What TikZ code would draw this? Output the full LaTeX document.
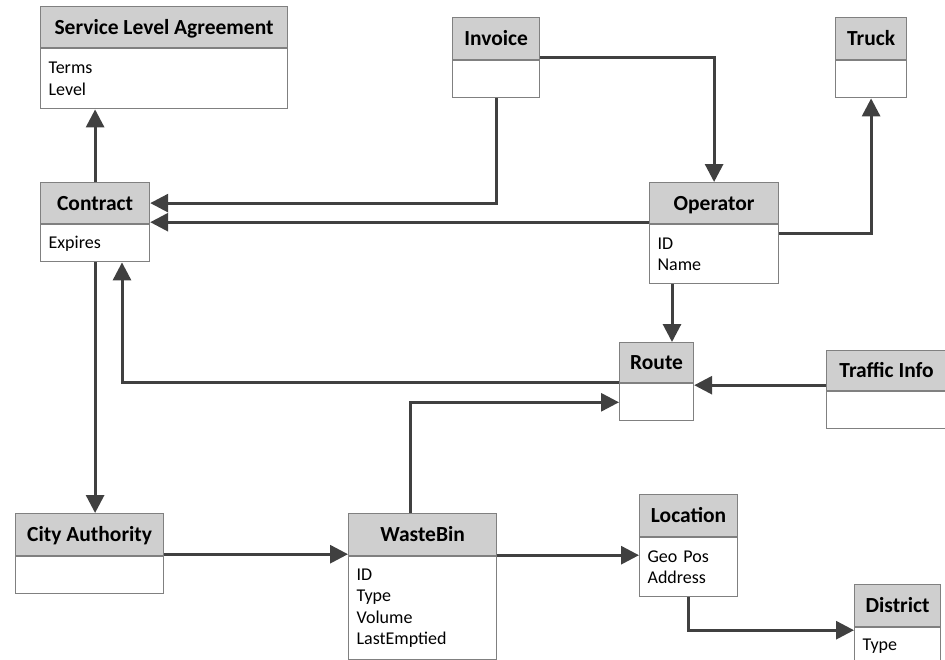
\documentclass[tikz,border=0pt]{standalone}
\usepackage{fontspec}
\setmainfont{Carlito}
\usetikzlibrary{arrows.meta,positioning}

\begin{document}
\begin{tikzpicture}[x=1pt,y=-1pt,
    clshead/.style={rectangle,draw=black!50,fill=black!19,line width=1.2pt,anchor=north west,inner sep=0pt,text height=13.8pt,text depth=0pt,font=\fontsize{21.5}{25}\selectfont\bfseries},
    clsbody/.style={rectangle,draw=black!50,fill=white,line width=1.2pt,inner xsep=8pt,inner ysep=0pt,align=left,font=\fontsize{18}{21.5}\selectfont},
    assoc/.style={-{Triangle[length=18pt,width=18pt]},line width=3pt,black!75},
]
\useasboundingbox (0,0) rectangle (945,659);

\node[clshead,minimum width=247pt,minimum height=41pt] (slaH) at (40,6) {Service Level Agreement};
\node[clsbody,text width=231pt,minimum height=60pt,below=0pt of slaH] (slaB) {Terms\\Level};
\node[clshead,minimum width=109pt,minimum height=41pt] (contractH) at (40,182) {Contract};
\node[clsbody,text width=93pt,minimum height=37pt,below=0pt of contractH] (contractB) {Expires};
\node[clshead,minimum width=87pt,minimum height=42pt] (invH) at (452,17) {Invoice};
\node[clsbody,text width=71pt,minimum height=37pt,below=0pt of invH] (invB) {};
\node[clshead,minimum width=71pt,minimum height=42pt] (truckH) at (835,17) {Truck};
\node[clsbody,text width=55pt,minimum height=37pt,below=0pt of truckH] (truckB) {};
\node[clshead,minimum width=129pt,minimum height=41pt] (opH) at (649,182) {Operator};
\node[clsbody,text width=113pt,minimum height=59pt,below=0pt of opH] (opB) {ID\\Name};
\node[clshead,minimum width=74pt,minimum height=40pt] (routeH) at (619,342) {Route};
\node[clsbody,text width=58pt,minimum height=37pt,below=0pt of routeH] (routeB) {};
\node[clshead,minimum width=120pt,minimum height=40pt] (trafH) at (826,350) {Traffic Info};
\node[clsbody,text width=104pt,minimum height=37pt,below=0pt of trafH] (trafB) {};
\node[clshead,minimum width=148pt,minimum height=42pt] (cityH) at (15,513) {City Authority};
\node[clsbody,text width=132pt,minimum height=37pt,below=0pt of cityH] (cityB) {};
\node[clshead,minimum width=148pt,minimum height=42pt] (wasteH) at (348,513) {WasteBin};
\node[clsbody,text width=132pt,minimum height=103pt,below=0pt of wasteH] (wasteB) {ID\\Type\\Volume\\LastEmptied};
\node[clshead,minimum width=98pt,minimum height=42pt] (locH) at (639,494) {Location};
\node[clsbody,text width=82pt,minimum height=59pt,below=0pt of locH] (locB) {Geo Pos\\Address};
\node[clshead,minimum width=86pt,minimum height=42pt] (distH) at (854,584) {District};
\node[clsbody,text width=70pt,minimum height=37pt,below=0pt of distH] (distB) {Type};

% connectors
\coordinate (opOut) at ([xshift=23pt]opB.south west);
\coordinate (ctIn) at ([xshift=82pt]contractB.south west);
\coordinate (tfOut) at ([yshift=6pt]trafH.south west);
\coordinate (wbOut) at ([xshift=62pt]wasteH.north west);
\coordinate (caOut) at ([yshift=2pt]cityH.south east);
\coordinate (wbRight) at ([yshift=1pt]wasteH.south east);
\coordinate (diIn) at ([yshift=-3pt]distB.north west);

\draw[assoc] (contractH.north) -- (contractH.north |- slaB.south);
\draw[assoc] (invB.south) |- (contractH.east);
\draw[assoc] ([yshift=3pt]invH.south east) -| (opH.north);
\draw[assoc] ([yshift=2pt]opH.south west) -- ([yshift=2pt]contractH.south east);
\draw[assoc] ([yshift=-9pt]opB.north east) -| (truckB.south);
\draw[assoc] (opOut) -- (opOut |- routeH.north);
\draw[assoc] ([yshift=1pt]routeH.south west) -| (ctIn);
\draw[assoc] (contractB.south) -- (contractB.south |- cityH.north);
\draw[assoc] (tfOut) -- (tfOut -| routeB.east);
\draw[assoc] (wbOut) |- (routeB.west);
\draw[assoc] (caOut) -- (caOut -| wasteH.west);
\draw[assoc] (wbRight) -- (wbRight -| locB.west);
\draw[assoc] (locB.south) |- (diIn);
\end{tikzpicture}
\end{document}
